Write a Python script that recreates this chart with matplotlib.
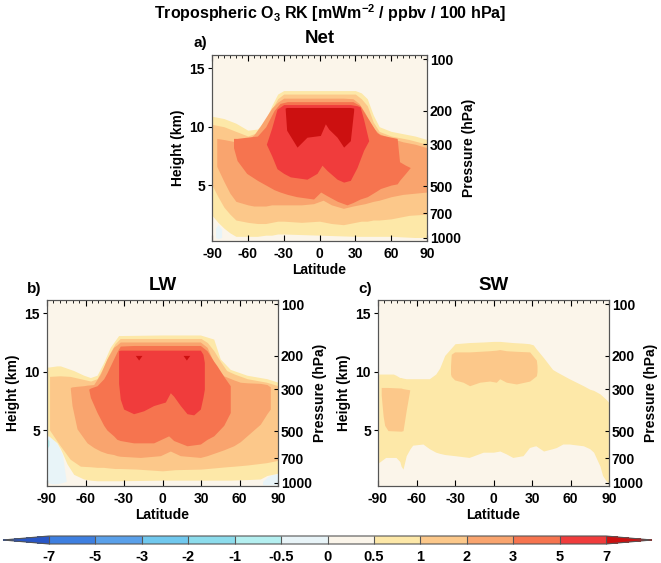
import matplotlib
matplotlib.use("Agg")
import matplotlib.pyplot as plt
from matplotlib.colors import ListedColormap, BoundaryNorm
from matplotlib.cm import ScalarMappable
from matplotlib.ticker import MultipleLocator

plt.rcParams['font.family'] = ['Liberation Sans', 'DejaVu Sans']
plt.rcParams['font.weight'] = 'bold'
plt.rcParams['axes.labelweight'] = 'bold'
plt.rcParams['axes.unicode_minus'] = False
plt.rcParams['mathtext.fontset'] = 'custom'
plt.rcParams['mathtext.rm'] = 'Liberation Sans:bold'
plt.rcParams['mathtext.default'] = 'rm'

# colour levels (mWm-2 / ppbv / 100 hPa)
bounds = [-7, -5, -3, -2, -1, -0.5, 0, 0.5, 1, 2, 3, 5, 7]
bound_labels = ['-7', '-5', '-3', '-2', '-1', '-0.5', '0', '0.5', '1', '2', '3', '5', '7']
colors = ['#3e7fe0', '#5aa0ea', '#70c8ee', '#8cdcec', '#b4eff0', '#e8f4f8',
          '#fbf5ea', '#fde8a8', '#fcc88a', '#f9a46e', '#f6744f', '#f03c3c']
under_color = '#2856c6'
over_color = '#cc1010'

# pressure axis (hPa) and where it sits in height (km)
p_labels = ['100', '200', '300', '500', '700', '1000']
p_heights = [15.8, 11.35, 8.5, 4.9, 2.6, 0.5]

# ---- Net: contour bands (lat, upper km, lower km)
net_lat05 = [-90, -85, -80, -75, -70, -60, -52, -45, -40, -35, -30, 0, 30, 35, 40, 45, 50, 60, 70, 80, 90]
net_top05 = [10.9, 10.8, 10.7, 10.5, 10.3, 9.7, 9.8, 10.6, 11.8, 12.8, 13.1, 13.1, 13.1, 12.9, 12.4, 11.0, 10.0, 9.6, 9.4, 9.2, 8.9]
net_bot05 = [2.4, 1.8, 1.3, 0.9, 0.6, 0.6, 0.6, 0.7, 0.7, 0.8, 0.8, 0.7, 0.6, 0.6, 0.6, 0.6, 0.6, 0.6, 0.55, 0.5, 0.5]

net_lat1 = [-90, -85, -80, -75, -70, -60, -52, -45, -40, -35, -30, -15, 0, 10, 20, 30, 35, 40, 45, 50, 60, 75, 90]
net_top1 = [10.2, 10.1, 10.0, 9.8, 9.6, 9.2, 9.5, 10.4, 11.5, 12.4, 12.8, 12.8, 12.8, 12.8, 12.8, 12.8, 12.4, 11.8, 10.4, 9.6, 9.2, 8.9, 8.5]
net_bot1 = [5.0, 4.0, 3.1, 2.5, 2.0, 1.8, 1.7, 1.7, 1.8, 1.9, 1.9, 1.8, 1.9, 1.7, 1.6, 1.8, 1.9, 1.9, 2.0, 2.0, 2.1, 2.4, 2.5]

net_lat2 = [-86, -80, -75, -70, -60, -55, -50, -45, -40, -35, -30, -15, -5, 3, 10, 20, 28, 33, 38, 45, 50, 60, 70, 80, 90]
net_top2 = [9.0, 8.9, 8.8, 8.7, 8.9, 9.3, 10.0, 10.8, 11.6, 12.1, 12.45, 12.45, 12.45, 12.45, 12.45, 12.45, 12.4, 12.0, 11.2, 9.9, 9.4, 9.0, 8.7, 8.5, 8.2]
net_bot2 = [6.6, 5.3, 4.3, 3.6, 3.3, 3.2, 3.2, 3.2, 3.3, 3.3, 3.3, 3.3, 3.4, 3.7, 3.3, 3.0, 3.2, 3.3, 3.4, 3.6, 3.7, 4.0, 4.2, 4.3, 4.4]

net_lat3 = [-72, -69, -61, -52, -45, -38, -33, -27, -19, -5, 1, 6, 15, 23, 28, 34, 40, 48, 51, 60, 65, 67, 72, 76]
net_top3 = [9.0, 9.0, 9.1, 9.2, 10.0, 11.4, 12.0, 12.15, 12.15, 12.15, 12.15, 12.15, 12.15, 12.15, 12.15, 11.8, 10.8, 9.5, 9.3, 9.1, 9.0, 7.0, 6.7, 6.5]
net_bot3 = [8.2, 7.1, 6.0, 5.4, 5.0, 4.6, 4.4, 4.2, 4.0, 3.8, 4.4, 4.1, 3.6, 3.3, 3.5, 3.8, 4.0, 4.5, 4.7, 5.0, 5.1, 5.4, 6.0, 6.5]

net_lat5 = [-44.5, -40, -35.6, -30, -24.4, -10.5, -2.1, 2.1, 6.3, 14.7, 20.2, 25.8, 31.4, 34, 37, 41.2]
net_top5 = [8.5, 9.9, 11.5, 11.9, 11.9, 11.9, 11.9, 11.9, 11.9, 11.9, 11.9, 11.9, 11.8, 11.7, 10.6, 8.8]
net_bot5 = [8.5, 7.5, 6.4, 6.0, 5.7, 5.5, 6.0, 6.7, 6.25, 5.5, 5.25, 5.4, 6.5, 7.2, 8.0, 8.8]

net_lat7 = [-28.8, -27.5, -18.8, -10.5, 0.7, 4.9, 7.7, 14.7, 20.2, 25.8, 28.6]
net_top7 = [11.6, 11.65, 11.65, 11.65, 11.65, 11.65, 11.65, 11.65, 11.65, 11.65, 11.6]
net_bot7 = [11.6, 9.7, 8.25, 9.1, 9.25, 10.25, 9.8, 9.1, 8.25, 8.8, 11.4]

net_latn = [-87, -85, -82]
net_topn = [1.3, 1.6, 1.2]
net_botn = [0.5, 0.4, 0.5]

# ---- LW
lw_lat05 = [-90, -88.7, -82.2, -79.6, -78.3, -74.4, -69.2, -61.4, -56.2, -51, -45.8, -40.7, -34.2, 0, 29.5, 39.9, 45, 52.8, 65.8, 76.2, 81.4, 90]
lw_top05 = [10.4, 10.4, 10.5, 10.5, 10.45, 10.3, 10.1, 9.7, 9.5, 9.7, 10.8, 12.1, 13.1, 13.15, 13.15, 12.8, 11.1, 10.2, 9.7, 9.5, 9.4, 9.1]
lw_bot05 = [4.5, 4.5, 3.9, 3.4, 3.1, 2.1, 1.2, 0.8, 0.7, 0.65, 0.65, 0.65, 0.65, 0.7, 0.7, 0.7, 0.7, 0.7, 0.75, 0.8, 1.1, 1.3]

lw_lat1 = [-88, -80, -72, -64, -56, -51, -46, -42, -37, -33, -20, 0, 10, 30, 35, 40, 45, 50, 56, 66, 81, 90]
lw_top1 = [9.6, 9.65, 9.6, 9.4, 9.2, 9.4, 10.4, 11.4, 12.4, 12.85, 12.85, 12.85, 12.85, 12.85, 12.5, 11.8, 10.9, 10.1, 9.8, 9.4, 9.1, 8.8]
lw_bot1 = [5.0, 3.7, 2.5, 1.9, 1.85, 1.8, 1.8, 1.75, 1.7, 1.7, 1.65, 1.5, 1.6, 1.65, 1.7, 1.75, 1.8, 1.85, 1.9, 2.0, 2.2, 2.4]

lw_lat2 = [-71.8, -70.5, -66.6, -61.4, -58.8, -53.6, -48.4, -43.3, -38.1, -35.5, -32.9, -17.3, -1.7, 6.1, 13.9, 29.5, 34.7, 39.9, 42.5, 47.7, 55.5, 60.6, 65.8, 76.2, 81.4, 84]
lw_top2 = [8.65, 8.7, 8.75, 8.8, 8.85, 8.9, 9.8, 11.1, 12.1, 12.3, 12.55, 12.55, 12.55, 12.55, 12.55, 12.55, 12.1, 10.8, 10.3, 9.65, 9.3, 9.1, 9.05, 9.0, 8.9, 8.7]
lw_bot2 = [8.5, 7.1, 5.1, 4.3, 3.9, 3.5, 3.2, 3.0, 2.9, 2.8, 2.75, 2.65, 2.8, 3.2, 2.8, 2.65, 2.8, 3.0, 3.1, 3.3, 3.65, 4.0, 4.5, 5.5, 6.4, 6.8]

lw_lat3 = [-57.5, -56.2, -51, -45.8, -43.3, -38.1, -35.5, -32.9, -22.5, -6.9, 4.8, 8.7, 19.1, 29.5, 34.7, 39.9, 42.5, 47.7, 52.8]
lw_top3 = [8.5, 8.6, 8.8, 9.4, 9.9, 11.1, 11.7, 12.2, 12.25, 12.25, 12.25, 12.25, 12.25, 12.25, 11.8, 10.9, 10.5, 9.6, 8.8]
lw_bot3 = [8.5, 7.8, 6.5, 5.4, 5.0, 4.5, 4.2, 4.1, 3.9, 3.9, 4.5, 4.1, 3.65, 3.8, 4.2, 4.5, 4.8, 5.4, 6.5]

lw_lat5 = [-34.2, -32.9, -30.3, -22.5, -14.7, -6.9, 2.2, 6.1, 8.7, 13.9, 19.1, 24.3, 29.5, 31.5, 32.6]
lw_top5 = [11.8, 11.85, 11.85, 11.85, 11.85, 11.85, 11.85, 11.85, 11.85, 11.85, 11.85, 11.85, 11.85, 11.5, 10.8]
lw_bot5 = [9.0, 7.65, 6.8, 6.4, 6.65, 7.1, 7.4, 8.2, 7.9, 7.1, 6.4, 6.3, 6.8, 7.8, 8.5]

lw_lat7a = [-21.2, -18.6, -16.0]
lw_lat7b = [16.0, 18.6, 21.2]
lw_top7 = [11.4, 11.4, 11.4]
lw_bot7 = [11.4, 11.0, 11.4]

lw_latn1 = [-90, -86, -82, -78, -75]
lw_topn1 = [4.5, 4.3, 3.8, 2.9, 0.6]
lw_botn1 = [0.5, 0.4, 0.4, 0.5, 0.6]
lw_latc = [-90, -88.5]
lw_topc = [4.3, 4.1]
lw_botc = [3.4, 3.7]
lw_latn2 = [78, 82, 86, 90]
lw_topn2 = [0.6, 1.0, 1.2, 1.25]
lw_botn2 = [0.3, 0.3, 0.3, 0.3]

# ---- SW
sw_lat05 = [-89.5, -84, -78, -76, -73, -72, -70.5, -68, -65, -63, -55, -50, -45, -42, -38, -30, -19, -8, 0, 5,
            10, 15, 23, 28, 31, 33, 39, 46, 49, 54, 59, 70, 75, 78, 83, 85, 88, 89.5]
sw_top05 = [9.8, 9.8, 9.8, 9.7, 9.5, 9.5, 9.45, 9.4, 9.4, 9.4, 9.4, 9.4, 9.8, 10.3, 11.4, 12.4, 12.5, 12.55, 12.6, 12.6,
            12.55, 12.5, 12.45, 12.4, 12.3, 12.0, 11.2, 10.2, 10.0, 9.7, 9.4, 8.8, 8.5, 8.4, 8.1, 7.9, 7.6, 7.4]
sw_bot05 = [2.2, 2.65, 2.65, 2.65, 2.3, 1.9, 1.65, 2.8, 3.4, 3.7, 3.8, 3.4, 3.1, 3.0, 2.9, 2.8, 2.65, 3.1, 3.1, 3.2,
            2.95, 2.65, 2.8, 3.5, 3.6, 3.65, 3.2, 3.4, 3.5, 3.8, 3.8, 3.65, 3.4, 3.1, 1.9, 1.1, 0.6, 0.5]

sw_lat1a = [-87.5, -86, -84.8, -82.2, -72, -70.5, -68, -65.3]
sw_top1a = [8.65, 8.65, 8.65, 8.65, 8.6, 8.55, 8.5, 8.45]
sw_bot1a = [8.0, 6.2, 5.4, 4.95, 4.9, 4.95, 6.7, 8.4]

sw_lat1b = [-33.5, -32.9, -30.3, -23.7, -18.6, -10.8, -3, 2.2, 4.8, 10, 17.8, 28.2, 33.4, 33.9]
sw_top1b = [10.5, 11.5, 11.7, 11.7, 11.7, 11.75, 11.8, 11.85, 11.9, 11.8, 11.75, 11.7, 11.0, 10.5]
sw_bot1b = [9.8, 9.6, 9.3, 9.1, 8.8, 9.1, 9.2, 9.1, 9.4, 9.1, 8.95, 9.2, 9.65, 10.0]

cmap = ListedColormap(colors)
cmap.set_under(under_color)
cmap.set_over(over_color)
norm = BoundaryNorm(bounds, cmap.N)

W, H = 661, 563
fig = plt.figure(figsize=(W / 100, H / 100), dpi=100)


def box(x0, y0, x1, y1):
    return [x0 / W, 1 - y1 / H, (x1 - x0) / W, (y1 - y0) / H]


def shade(ax, lat, top, bot, value):
    ax.fill_between(lat, bot, top, color=cmap(norm(value)), lw=0)


def setup(ax):
    ax.set_facecolor(cmap(norm(0.25)))
    ax.set_xlim(-90, 90)
    ax.set_ylim(0.2, 16.15)
    ax.set_xticks(range(-90, 91, 30))
    ax.set_yticks([5, 10, 15])
    ax.xaxis.set_minor_locator(MultipleLocator(5))
    ax.tick_params(axis='x', which='major', direction='in', length=4, top=True, labelsize=10, pad=4)
    ax.tick_params(axis='x', which='minor', direction='in', length=2, top=True, bottom=False)
    ax.tick_params(axis='y', direction='out', length=3, labelsize=10, pad=2)
    ax.set_xlabel('Latitude', fontsize=10, labelpad=2)
    ax.set_ylabel('Height (km)', fontsize=10, labelpad=3)
    for s in ax.spines.values():
        s.set_color('#555555')
        s.set_linewidth(0.8)
    ax2 = ax.twinx()
    ax2.set_ylim(ax.get_ylim())
    ax2.set_yticks(p_heights, p_labels)
    ax2.tick_params(axis='y', direction='in', length=3, labelsize=10, pad=2)
    ax2.set_ylabel('Pressure (hPa)', fontsize=10, labelpad=1)
    for s in ax2.spines.values():
        s.set_color('#555555')
        s.set_linewidth(0.8)


ax_net = fig.add_axes(box(212, 55, 427, 241))
ax_lw = fig.add_axes(box(47, 300, 278, 486))
ax_sw = fig.add_axes(box(378, 300, 609, 486))

# Net
shade(ax_net, net_latn, net_topn, net_botn, -0.25)
shade(ax_net, net_lat05, net_top05, net_bot05, 0.5)
shade(ax_net, net_lat1, net_top1, net_bot1, 1)
shade(ax_net, net_lat2, net_top2, net_bot2, 2)
shade(ax_net, net_lat3, net_top3, net_bot3, 3)
shade(ax_net, net_lat5, net_top5, net_bot5, 5)
shade(ax_net, net_lat7, net_top7, net_bot7, 8)

# LW
shade(ax_lw, lw_latn1, lw_topn1, lw_botn1, -0.25)
shade(ax_lw, lw_latc, lw_topc, lw_botc, -0.75)
shade(ax_lw, lw_latn2, lw_topn2, lw_botn2, -0.25)
shade(ax_lw, lw_lat05, lw_top05, lw_bot05, 0.5)
shade(ax_lw, lw_lat1, lw_top1, lw_bot1, 1)
shade(ax_lw, lw_lat2, lw_top2, lw_bot2, 2)
shade(ax_lw, lw_lat3, lw_top3, lw_bot3, 3)
shade(ax_lw, lw_lat5, lw_top5, lw_bot5, 5)
shade(ax_lw, lw_lat7a, lw_top7, lw_bot7, 8)
shade(ax_lw, lw_lat7b, lw_top7, lw_bot7, 8)

# SW
shade(ax_sw, sw_lat05, sw_top05, sw_bot05, 0.5)
shade(ax_sw, sw_lat1a, sw_top1a, sw_bot1a, 1)
shade(ax_sw, sw_lat1b, sw_top1b, sw_bot1b, 1)

for ax in (ax_net, ax_lw, ax_sw):
    setup(ax)

fig.text(330 / W, 1 - 13 / H, 'Tropospheric O$_3$ RK [mWm$^{-2}$ / ppbv / 100 hPa]',
         ha='center', va='center', fontsize=11.5)
fig.text(319.5 / W, 1 - 38.5 / H, 'Net', ha='center', va='center', fontsize=13.5)
fig.text(193 / W, 1 - 42.5 / H, 'a)', ha='left', va='center', fontsize=11)
fig.text(162.5 / W, 1 - 286 / H, 'LW', ha='center', va='center', fontsize=13.5)
fig.text(27 / W, 1 - 289 / H, 'b)', ha='left', va='center', fontsize=11)
fig.text(493.5 / W, 1 - 286 / H, 'SW', ha='center', va='center', fontsize=13.5)
fig.text(358 / W, 1 - 289 / H, 'c)', ha='left', va='center', fontsize=11)

cax = fig.add_axes(box(3, 536, 652, 544))
cb = fig.colorbar(ScalarMappable(norm=norm, cmap=cmap), cax=cax, orientation='horizontal',
                  extend='both', extendfrac=0.0826, drawedges=True, ticks=bounds)
cb.set_ticklabels(bound_labels)
cb.ax.tick_params(length=0, labelsize=10.5, pad=4.5)
cb.outline.set_edgecolor('#555555')
cb.outline.set_linewidth(0.8)
cb.dividers.set_color('#555555')
cb.dividers.set_linewidth(0.8)

fig.savefig('out.png', dpi=100)
